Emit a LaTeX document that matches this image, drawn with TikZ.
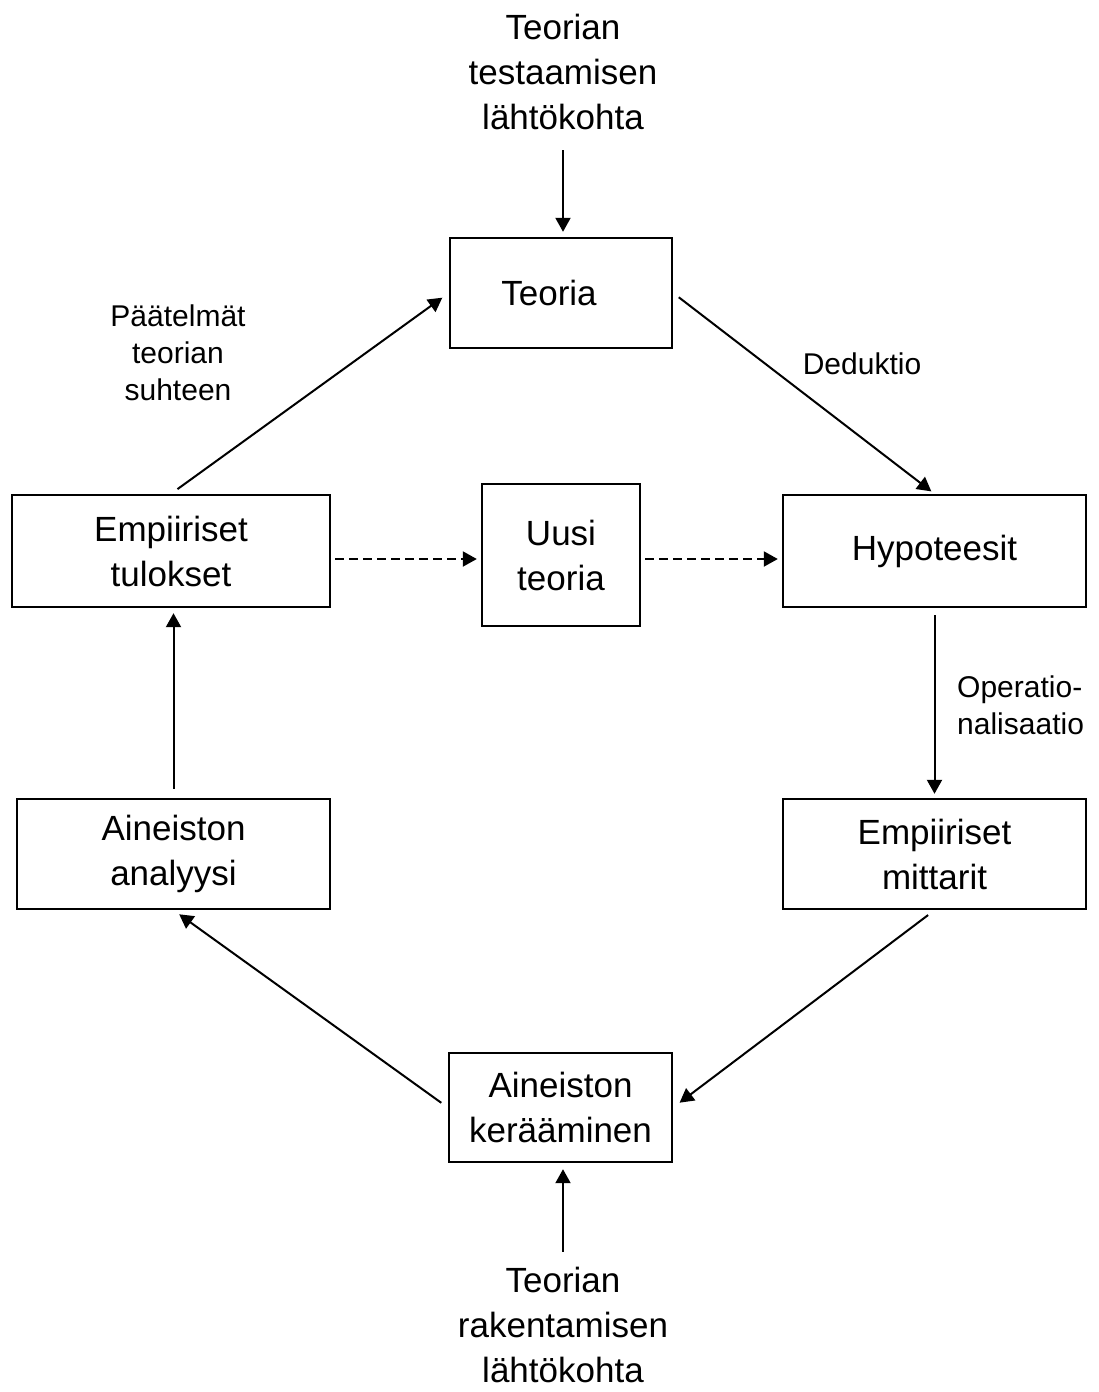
\documentclass[tikz,border=0pt]{standalone}
\usepackage{fontspec}
\setmainfont{Liberation Sans}
\usetikzlibrary{arrows.meta}
\begin{document}
\begin{tikzpicture}[x=1pt,y=-1pt,
  box/.style={draw,line width=2.4pt,inner sep=0pt,align=center,font={\fontsize{35}{45}\selectfont}},
  outer/.style={inner sep=0pt,align=center,font={\fontsize{35}{45}\selectfont}},
  lbl/.style={inner sep=0pt,font={\fontsize{30}{37}\selectfont}},
  arr/.style={line width=2pt,-{Triangle[length=14pt,width=15pt]}},
  darr/.style={arr,dash pattern=on 9pt off 5pt}]
\useasboundingbox (0,0) rectangle (1098,1392);
\node[outer] (top) at (563,72) {Teorian\\testaamisen\\lähtökohta};
\node[box,minimum width=222pt,minimum height=110pt] (teoria) at (561,293) {Teoria\hspace*{24pt}};
\node[box,minimum width=318pt,minimum height=112pt] (tul) at (171,551) {Empiiriset\\tulokset};
\node[box,minimum width=158pt,minimum height=142pt] (uusi) at (561,555) {Uusi\\teoria};
\node[box,minimum width=303pt,minimum height=112pt] (hyp) at (934.5,551) {Hypoteesit};
\node[box,minimum width=303pt,minimum height=110pt] (mitt) at (934.5,854) {Empiiriset\\mittarit};
\node[box,minimum width=313pt,minimum height=110pt] (anal) at (173.5,854) {Aineiston\\analyysi};
\node[box,minimum width=223pt,minimum height=109pt] (ker) at (560.5,1107.5) {Aineiston\\kerääminen};
\node[outer] (bot) at (563,1325) {Teorian\\rakentamisen\\lähtökohta};
\node[lbl,align=center] (paat) at (178,353) {Päätelmät\\teorian\\suhteen};
\node[lbl] (ded) at (862,364) {Deduktio};
\node[lbl,align=left,anchor=west] (oper) at (957,705) {Operatio-\\nalisaatio};
\draw[arr,shorten <=20pt,shorten >=5pt] (top.south) -- (top.south |- teoria.north);
\draw[arr,shorten <=7pt,shorten >=4pt] (teoria.east) -- (hyp.north);
\draw[arr,shorten <=8pt,shorten >=8pt] (tul.north) -- (teoria.west);
\draw[arr,shorten <=7pt,shorten >=4pt] (hyp.south) -- (mitt.north);
\draw[arr,shorten <=8pt,shorten >=8pt] (mitt.south) -- (ker.east);
\draw[arr,shorten <=8pt,shorten >=7pt] (ker.west) -- (anal.south);
\draw[arr,shorten <=9pt,shorten >=5pt] (anal.north) -- (anal.north |- tul.south);
\draw[arr,shorten <=15pt,shorten >=6pt] (bot.north) -- (bot.north |- ker.south);
\draw[darr,shorten <=4pt,shorten >=4pt] ([yshift=-8pt]tul.east) -- ([yshift=-8pt]tul.east -| uusi.west);
\draw[darr,shorten <=4pt,shorten >=4pt] ([yshift=-4pt]uusi.east) -- ([yshift=-4pt]uusi.east -| hyp.west);
\end{tikzpicture}
\end{document}
